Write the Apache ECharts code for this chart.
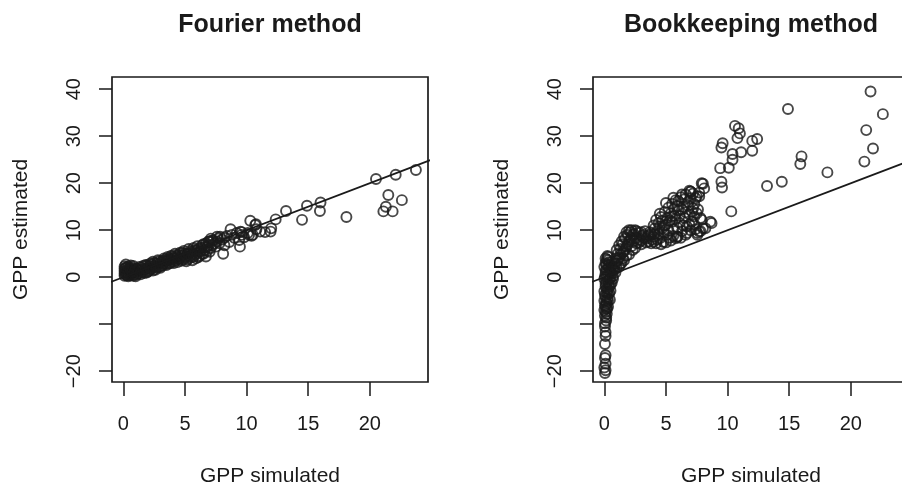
<!DOCTYPE html>
<html>
<head>
<meta charset="utf-8">
<script src="https://cdn.jsdelivr.net/npm/echarts@6/dist/echarts.min.js"></script>
<style>
  html, body { margin: 0; padding: 0; background: #fff; }
  #main { width: 902px; height: 487px; }
</style>
</head>
<body>
<div id="main"></div>
<script>
// GPP simulated vs GPP estimated, two methods
var xTicks = [0, 5, 10, 15, 20];
var yTicks = [-20, -10, 0, 10, 20, 30, 40];
var yLabels = [-20, 0, 10, 20, 30, 40];   // -10 label dropped in the original
var oneToOne = [-5, 45];

// Fourier method
var fourierX = [
  0.1, 0.1, 0.1, 0.1, 0.1, 0.2, 0.2, 0.3, 0.3, 0.3, 0.4, 0.4, 0.5, 0.5, 0.6, 0.6, 0.7, 0.8, 0.8, 0.9, 1.0, 1.0, 1.1, 1.2, 1.3,
  1.4, 1.5, 1.6, 1.7, 1.8, 1.9, 2.0, 2.1, 2.2, 2.3, 2.4, 2.5, 2.6, 2.7, 2.8, 2.9, 3.0,
  3.1, 3.2, 3.3, 3.4, 3.5, 3.6, 3.7, 3.8, 3.9, 4.0, 4.1, 4.2, 4.3, 4.4, 4.5, 4.6, 4.7, 4.8, 4.9, 5.0,
  5.1, 5.2, 5.3, 5.4, 5.5, 5.6, 5.7, 5.8, 5.9, 6.0, 6.1, 6.2, 6.3, 6.4, 6.5, 6.6, 6.7, 6.8, 6.9, 7.0, 7.1, 7.2,
  7.3, 7.5, 7.6, 7.8, 7.85, 8.0, 8.1, 8.2, 8.4, 8.6, 8.7, 9.0, 9.2, 9.4, 9.46, 9.5, 9.6, 9.8,
  10.1, 10.3, 10.4, 10.5, 10.7, 10.76, 11.1, 11.95, 12.0, 12.36, 13.2, 14.5, 14.9, 15.95, 16.0,
  18.1, 20.5, 21.1, 21.3, 21.5, 21.85, 22.1, 22.6, 23.74,
  0.2, 0.2, 0.3, 0.4, 0.4, 0.5, 0.6, 0.7, 0.7, 0.8, 0.9, 1.0, 1.1, 1.2, 1.3, 1.4, 1.5, 1.6, 1.7, 1.8, 1.9, 2.0,
  2.1, 2.2, 2.3, 2.4, 2.5, 2.6, 2.7, 2.8, 2.9, 3.0, 3.1, 3.2, 3.3, 3.4, 3.5, 3.6, 3.7, 3.8, 3.9, 4.0,
  4.1, 4.2, 4.3, 4.4, 4.5, 4.6, 4.7, 4.8, 4.9, 5.0, 5.1, 5.2, 5.3, 5.4, 5.5, 5.6, 5.7, 5.8, 5.9, 6.0,
  6.1, 6.2, 6.3, 6.4, 6.5, 6.6, 6.7, 6.8, 6.9, 7.0, 7.1, 7.2, 7.4, 7.6, 7.7, 8.2, 8.8, 9.6, 10.2, 10.8, 11.5
];
var fourierY = [
  0.3, 0.8, 1.3, 1.8, 2.3, 2.7, 0.5, 1.0, 1.6, 2.1, 0.2, 0.7, 1.2, 1.9, 0.4, 2.5, 0.9, 0.3, 1.5, 0.6, 1.1, 0.2, 1.8, 0.8, 1.4,
  0.6, 2.0, 1.1, 1.6, 2.6, 1.0, 2.0, 1.4, 2.9, 1.8, 3.3, 2.4, 1.6, 3.0, 3.6, 2.2, 3.0,
  2.4, 3.5, 4.0, 2.8, 3.4, 4.3, 2.9, 3.8, 4.6, 3.3, 4.1, 5.0, 3.6, 4.4, 4.0, 5.2, 3.5, 4.7, 5.6, 4.2,
  3.4, 5.0, 6.0, 4.4, 5.3, 3.6, 6.2, 4.8, 5.6, 6.6, 4.3, 5.4, 6.2, 5.0, 7.0, 5.8, 4.4, 6.4, 7.6, 5.4, 8.2, 6.8,
  7.8, 6.5, 8.6, 7.2, 8.6, 8.0, 5.0, 6.8, 8.8, 7.5, 10.2, 8.4, 9.4, 7.9, 6.5, 9.7, 9.0, 8.5,
  9.4, 12.0, 8.8, 9.0, 11.1, 11.3, 9.7, 9.7, 10.4, 12.3, 14.1, 12.2, 15.2, 14.1, 15.9,
  12.8, 20.9, 14.0, 15.0, 17.5, 14.0, 21.8, 16.4, 22.8,
  1.0, 2.0, 0.4, 1.4, 2.3, 0.6, 1.6, 2.0, 1.2, 2.4, 1.2, 1.8, 0.6, 1.6, 2.2, 1.0, 1.5, 2.4, 0.9, 1.8, 2.5, 1.2,
  2.4, 1.8, 2.7, 1.4, 3.0, 2.2, 2.0, 2.8, 3.4, 2.0, 3.2, 2.6, 3.0, 3.8, 2.6, 3.6, 4.0, 3.0, 3.6, 4.4,
  3.0, 4.0, 4.6, 3.2, 4.8, 3.8, 4.4, 5.2, 3.8, 5.0, 4.4, 3.8, 5.0, 5.6, 4.2, 5.0, 4.4, 5.8, 4.0, 5.2,
  6.0, 4.6, 5.6, 6.8, 5.0, 6.4, 7.2, 5.6, 6.8, 7.6, 6.2, 7.8, 7.2, 7.6, 8.2, 8.4, 9.0, 9.6, 9.0, 10.2, 9.6
];

// Bookkeeping method
var bookX = [
  0.05, 0.1, 0.0, 0.1, 0.05, 0.1, 0.05, 0.1, 0.05, 0.15, 0.1, 0.2, 0.05, 0.15, 0.25, 0.05, 0.2, 0.3, 0.1, 0.35,
  0.15, 0.4, 0.05, 0.3, 0.5, 0.1, 0.35, 0.6, 0.15, 0.4, 0.2, 0.3, 0.7, 0.8, 0.6, 0.5, 0.9, 0.45, 0.3, 0.2,
  1.0, 1.1, 1.2, 1.3, 1.4, 1.5, 1.6, 1.7, 1.8, 1.9, 2.0, 2.1, 2.2, 1.2, 1.5, 2.3, 2.6, 1.8,
  2.4, 2.6, 2.8, 3.0, 3.2, 3.4, 3.6, 3.8, 4.0, 2.2, 3.0, 3.6,
  4.2, 4.3, 4.4, 4.5, 4.6, 4.7, 4.8, 4.9, 5.0, 5.1, 5.2, 5.3, 5.4, 5.5, 5.6, 5.7, 5.8, 5.9, 6.0, 6.1,
  6.2, 6.3, 6.4, 6.5, 6.6, 6.7, 6.8, 6.9, 7.0, 7.1, 7.2, 7.3, 7.4, 7.5, 4.0, 4.5, 5.0, 5.6, 5.95, 5.8,
  7.5, 6.9, 7.9, 8.1, 8.0, 7.7, 7.0,
  7.9, 8.0, 7.55, 7.8, 8.7, 8.6, 8.2, 7.7, 7.55, 7.8, 7.3,
  9.5, 9.55, 9.4, 9.6, 9.5, 10.1, 10.3, 10.4, 10.4, 10.6, 10.9, 11.0, 10.8, 11.1, 12.0, 12.0, 12.4,
  13.2, 14.4, 14.9, 15.9, 16.0, 18.1, 21.1, 21.25, 21.6, 21.8, 22.6,
  0.0, 0.1, 0.2, 0.0, 0.1, 0.3, 0.0, 0.2, 0.4, 0.1, 0.3, 0.0, 0.2, 0.5, 0.1, 0.4, 0.2, 0.0, 0.3, 0.5,
  0.1, 0.3, 0.1, 0.25, 0.6, 0.7, 0.8, 0.6, 0.9, 1.0, 0.7, 0.5, 0.4, 0.3, 0.2, 0.05, 0.15, 0.05, 0.1,
  0.9, 1.0, 1.1, 1.2, 1.3, 1.4, 1.5, 1.6, 1.7, 1.8, 1.9, 2.0, 2.1, 2.2, 2.3, 2.4, 2.5, 1.3, 1.6, 2.0, 2.5, 2.8, 3.0,
  2.6, 2.8, 3.0, 3.2, 3.3, 3.5, 3.7, 3.9, 4.1, 3.4, 3.8,
  4.0, 4.1, 4.2, 4.3, 4.4, 4.5, 4.6, 4.7, 4.8, 4.9, 5.0, 5.1, 5.2, 5.3, 5.4, 5.5, 5.6, 5.7, 5.8, 5.9, 6.0,
  6.1, 6.2, 6.3, 6.4, 6.5, 6.6, 6.7, 6.8, 6.9, 7.0, 7.1, 7.2, 7.3, 7.4, 7.6, 7.7, 6.3, 5.9, 5.5, 6.6, 7.0
];
var bookY = [
  -20.4, -19.8, -19.2, -18.4, -17.2, -16.6, -14.2, -11.7, -9.8, -8.6, -7.4, -6.6, -6.0, -5.2, -4.5, -3.8, -3.2, -2.6, -2.0, -1.5,
  -1.0, -0.4, 0.1, 0.5, 1.0, 1.4, 1.9, 2.3, 2.7, 3.2, 3.8, 4.3, 0.2, 1.5, -1.2, -2.9, 2.8, -4.8, -6.3, -7.8,
  3.5, 5.0, 4.2, 6.0, 3.0, 7.0, 5.5, 8.2, 6.5, 9.0, 7.6, 9.6, 8.4, 2.2, 4.0, 5.8, 7.2, 4.6,
  9.2, 8.4, 9.5, 8.8, 9.0, 8.2, 8.9, 9.3, 8.6, 10.0, 7.8, 7.6,
  7.2, 9.8, 11.5, 8.3, 12.8, 10.4, 7.5, 13.9, 11.2, 9.0, 14.8, 12.0, 7.8, 15.6, 10.2, 13.0, 16.4, 8.6, 14.2, 11.6,
  17.0, 9.8, 15.0, 12.6, 17.6, 10.8, 16.0, 13.4, 18.2, 11.8, 14.6, 12.9, 16.8, 13.6, 11.0, 13.5, 15.8, 16.9, 8.6, 8.3,
  17.2, 18.4, 20.0, 18.9, 19.9, 17.2, 18.2,
  12.2, 10.4, 9.4, 9.8, 11.5, 11.8, 10.4, 9.7, 9.0, 12.6, 11.2,
  20.3, 19.1, 23.2, 28.5, 27.6, 23.3, 14.0, 26.2, 25.0, 32.2, 31.7, 30.6, 29.6, 26.6, 29.0, 26.9, 29.4,
  19.4, 20.3, 35.8, 24.1, 25.7, 22.3, 24.6, 31.3, 39.5, 27.4, 34.7,
  -7.0, -6.2, -5.6, -5.0, -4.2, -3.6, -3.0, -2.4, -2.0, -1.4, -0.8, -0.4, 0.2, -0.2, 0.8, 1.2, 1.6, 2.2, 2.6, 2.0,
  3.0, 3.6, 4.0, 4.5, 0.8, 1.8, 2.2, 3.2, 1.0, 2.0, -0.4, -1.6, -3.4, -5.0, -6.8, -8.2, -9.2, -10.5, -12.5,
  4.0, 5.8, 3.6, 6.8, 4.8, 7.6, 5.2, 8.6, 6.0, 9.6, 7.0, 10.0, 8.0, 6.6, 9.0, 7.6, 10.0, 2.8, 3.6, 4.8, 6.2, 7.4, 7.0,
  9.8, 8.0, 9.6, 8.4, 9.8, 8.6, 9.6, 8.0, 9.2, 7.4, 7.2,
  7.6, 10.4, 12.2, 8.0, 9.2, 10.8, 7.0, 12.0, 9.6, 11.0, 7.4, 12.6, 10.0, 8.4, 13.6, 11.8, 8.8, 14.6, 12.4, 10.6, 16.2,
  13.0, 8.4, 14.4, 11.0, 16.6, 13.8, 9.4, 15.2, 11.2, 16.8, 14.0, 17.8, 15.6, 10.2, 14.4, 18.0, 17.6, 15.2, 13.0, 9.0, 10.0
];

function pairs(xs, ys) {
  var out = [];
  for (var i = 0; i < xs.length; i++) out.push([xs[i], ys[i]]);
  return out;
}

var font = 'Liberation Sans, Arial, Helvetica, sans-serif';
var ink = '#1a1a1a';

function xAxisFor(idx) {
  return {
    gridIndex: idx, type: 'value', min: -0.92, max: 24.72,
    splitLine: { show: false },
    axisLine: { show: false, onZero: false },
    axisTick: { show: true, customValues: xTicks, length: 14, inside: false, lineStyle: { color: ink, width: 1.5 } },
    axisLabel: { customValues: xTicks, margin: 32, fontSize: 20, color: ink, fontFamily: font },
    name: 'GPP simulated', nameLocation: 'middle', nameGap: 84,
    nameTextStyle: { fontSize: 21, color: ink, fontFamily: font }
  };
}
function yAxisFor(idx) {
  return {
    gridIndex: idx, type: 'value', min: -22.3, max: 42.6,
    splitLine: { show: false },
    axisLine: { show: false, onZero: false },
    axisTick: { show: true, customValues: yTicks, length: 13, inside: false, lineStyle: { color: ink, width: 1.5 } },
    axisLabel: {
      customValues: yLabels, margin: 28, rotate: 90, fontSize: 20, color: ink, fontFamily: font,
      formatter: function (v) { return v < 0 ? '\u2212' + Math.abs(v) : String(v); }
    },
    name: 'GPP estimated', nameLocation: 'middle', nameGap: 80,
    nameTextStyle: { fontSize: 21, color: ink, fontFamily: font }
  };
}

var pointStyle = { color: 'rgba(0,0,0,0)', borderColor: ink, borderWidth: 1.9 };

var myChart = echarts.init(document.getElementById('main'));
myChart.setOption({
  backgroundColor: '#fff',
  animation: false,
  graphic: [
    { type: 'text', style: { text: 'Fourier method', x: 270, y: 25, align: 'center', verticalAlign: 'middle', fontSize: 25, fontWeight: 'bold', fontFamily: font, fill: ink } },
    { type: 'text', style: { text: 'Bookkeeping method', x: 751, y: 25, align: 'center', verticalAlign: 'middle', fontSize: 25, fontWeight: 'bold', fontFamily: font, fill: ink } }
  ],
  grid: [
    { left: 112, top: 77, width: 316, height: 305, outerBoundsMode: 'none', show: true, borderColor: ink, borderWidth: 1.7, backgroundColor: 'transparent' },
    { left: 593, top: 77, width: 316, height: 305, outerBoundsMode: 'none', show: true, borderColor: ink, borderWidth: 1.7, backgroundColor: 'transparent' }
  ],
  xAxis: [xAxisFor(0), xAxisFor(1)],
  yAxis: [yAxisFor(0), yAxisFor(1)],
  series: [
    { type: 'scatter', xAxisIndex: 0, yAxisIndex: 0, symbol: 'circle', symbolSize: 10, itemStyle: pointStyle, data: pairs(fourierX, fourierY) },
    { type: 'line', xAxisIndex: 0, yAxisIndex: 0, showSymbol: false, clip: true, lineStyle: { color: ink, width: 1.8 }, data: pairs(oneToOne, oneToOne) },
    { type: 'scatter', xAxisIndex: 1, yAxisIndex: 1, symbol: 'circle', symbolSize: 10, itemStyle: pointStyle, data: pairs(bookX, bookY) },
    { type: 'line', xAxisIndex: 1, yAxisIndex: 1, showSymbol: false, clip: true, lineStyle: { color: ink, width: 1.8 }, data: pairs(oneToOne, oneToOne) }
  ]
});
</script>
</body>
</html>
